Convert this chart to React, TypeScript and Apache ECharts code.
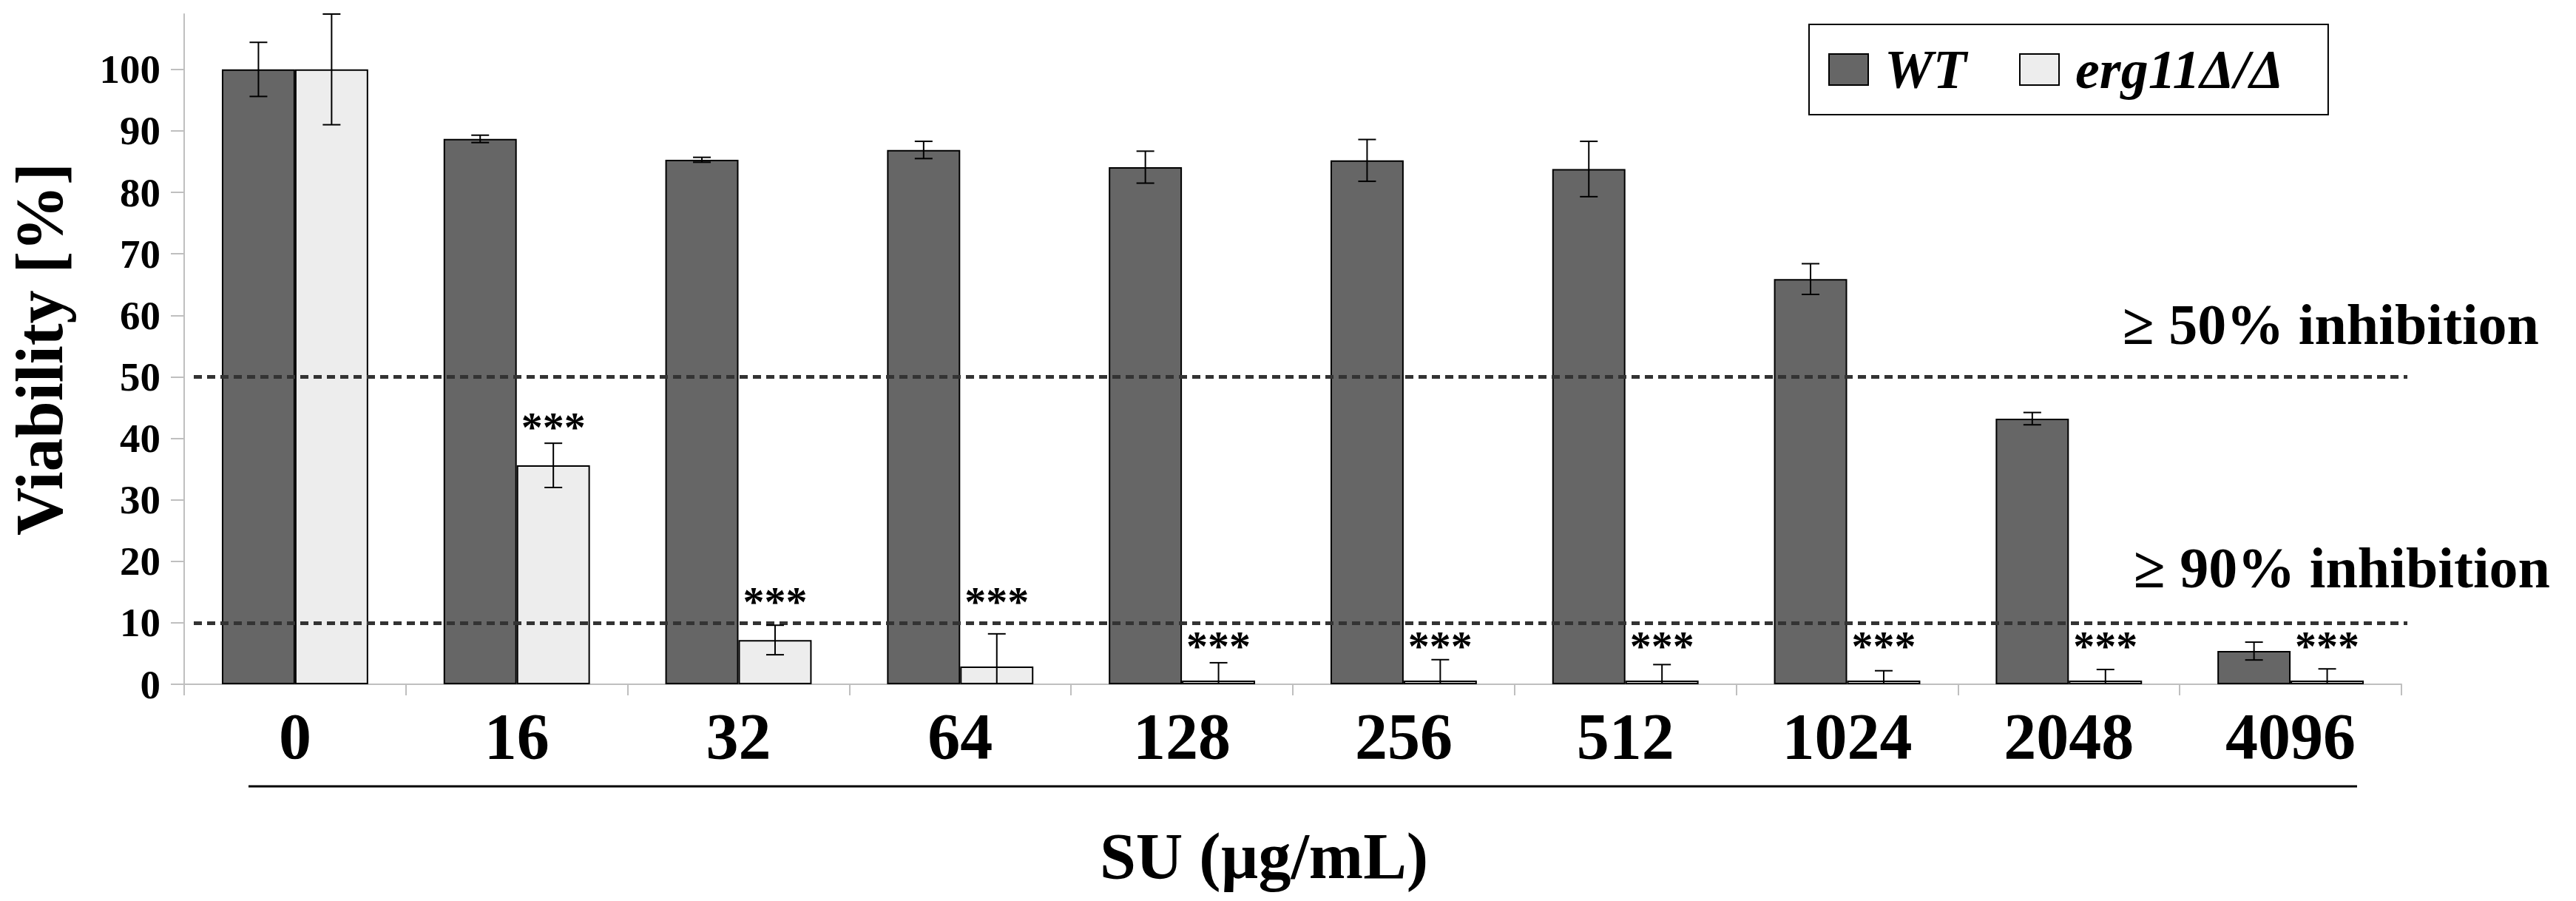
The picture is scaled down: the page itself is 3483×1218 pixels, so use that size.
import React, { useEffect, useRef } from "react";
import * as echarts from "echarts";

const categories = ["0", "16", "32", "64", "128", "256", "512", "1024", "2048", "4096"];
const wtMean = [100, 88.7, 85.3, 86.9, 84.1, 85.2, 83.8, 65.9, 43.2, 5.4];
const wtErr = [4.4, 0.6, 0.4, 1.4, 2.6, 3.4, 4.5, 2.5, 1.0, 1.45];
const ergMean = [100, 35.6, 7.2, 2.9, 0.6, 0.6, 0.6, 0.6, 0.6, 0.6];
const ergErr = [9.0, 3.6, 2.4, 5.3, 2.9, 3.4, 2.6, 1.6, 1.8, 1.9];
const sigLabel = ["", "***", "***", "***", "***", "***", "***", "***", "***", "***"];
const sigY = [0, 41.8, 13.4, 13.4, 6.2, 6.2, 6.2, 6.2, 6.2, 6.2];
const yTicks = [0, 10, 20, 30, 40, 50, 60, 70, 80, 90, 100];
const thresholds = [50, 10];
const thresholdLabels = ["\u2265 50% inhibition", "\u2265 90% inhibition"];
const seriesNames = ["WT", "erg11\u0394/\u0394"];

const FONT = "'Liberation Serif', 'Times New Roman', serif";

export default function App() {
  const ref = useRef<HTMLDivElement>(null);
  useEffect(() => {
    document.body.style.margin = "0";
    const chart = echarts.init(ref.current!, null, { renderer: "svg" });
    const band = 0.66; // fraction of category occupied by the two bars
    const errData = categories.map((_, i) => [i, wtMean[i], wtErr[i], ergMean[i], ergErr[i], sigY[i]]);
    const option: any = {
      animation: false,
      backgroundColor: "#fff",
      grid: { left: 245, right: 236, top: 19, bottom: 293, containLabel: false },
      legend: {
        data: seriesNames,
        left: 2446,
        top: 33,
        orient: "horizontal",
        icon: "rect",
        itemWidth: 53,
        itemHeight: 42,
        itemGap: 71,
        padding: [24, 60, 24, 26],
        borderColor: "#000",
        borderWidth: 2,
        backgroundColor: "#fff",
        selectedMode: false,
        textStyle: {
          fontFamily: FONT,
          fontSize: 74,
          fontWeight: "bold",
          fontStyle: "italic",
          color: "#000",
          lineHeight: 70,
          padding: [0, 0, 0, 17],
        },
      },
      xAxis: {
        type: "category",
        data: categories,
        name: "SU (\u00b5g/mL)",
        nameLocation: "middle",
        nameGap: 188,
        nameTextStyle: {
          fontFamily: FONT,
          fontSize: 88,
          fontWeight: "bold",
          color: "#000",
          lineHeight: 88,
          padding: [0, 78, 0, 0],
        },
        axisLine: { lineStyle: { color: "#bfbfbf", width: 2 } },
        axisTick: { show: true, length: 15, lineStyle: { color: "#bfbfbf", width: 2 } },
        axisLabel: {
          fontFamily: FONT,
          fontSize: 88,
          fontWeight: "bold",
          color: "#000",
          margin: 26,
          lineHeight: 88,
          interval: 0,
        },
      },
      yAxis: {
        type: "value",
        min: 0,
        max: 109,
        interval: 10,
        name: "Viability [%]",
        nameLocation: "middle",
        nameGap: 151,
        nameTextStyle: {
          fontFamily: FONT,
          fontSize: 90,
          fontWeight: "bold",
          color: "#000",
          lineHeight: 90,
        },
        splitLine: { show: false },
        axisLine: { show: true, lineStyle: { color: "#bfbfbf", width: 2 } },
        axisTick: { show: true, length: 18, customValues: yTicks, lineStyle: { color: "#bfbfbf", width: 2 } },
        axisLabel: {
          customValues: yTicks,
          fontFamily: FONT,
          fontSize: 55,
          fontWeight: "bold",
          color: "#000",
          margin: 32,
        },
      },
      series: [
        {
          name: seriesNames[0],
          type: "bar",
          data: wtMean,
          barGap: "0%",
          barCategoryGap: "34%",
          itemStyle: { color: "#666666", borderColor: "#000", borderWidth: 2 },
        },
        {
          name: seriesNames[1],
          type: "bar",
          data: ergMean,
          barGap: "0%",
          barCategoryGap: "34%",
          itemStyle: { color: "#ededed", borderColor: "#000", borderWidth: 2 },
          markLine: {
            silent: true,
            symbol: ["none", "none"],
            label: { show: false },
            lineStyle: { type: [11, 7], width: 5, color: "#333333" },
            data: thresholds.map((v) => [
              { x: 262, yAxis: v },
              { x: 3255, yAxis: v },
            ]),
          },
        },
        {
          name: "errors",
          type: "custom",
          data: errData,
          encode: { x: 0, y: 1 },
          z: 5,
          renderItem: (params: any, api: any) => {
            const i = api.value(0);
            const c = api.coord([i, 0]);
            const bw = api.size([1, 0])[0];
            const off = (bw * band) / 4;
            const children: any[] = [];
            const ls = { stroke: "#000", lineWidth: 2 };
            const cap = 12;
            const addErr = (x: number, m: number, e: number) => {
              const top = api.coord([i, m + e])[1];
              const lowV = m - e;
              const low = api.coord([i, Math.max(0, lowV)])[1];
              children.push({ type: "line", shape: { x1: x, y1: top, x2: x, y2: low }, style: ls });
              children.push({ type: "line", shape: { x1: x - cap, y1: top, x2: x + cap, y2: top }, style: ls });
              if (lowV >= 0) {
                children.push({ type: "line", shape: { x1: x - cap, y1: low, x2: x + cap, y2: low }, style: ls });
              }
            };
            addErr(c[0] - off, api.value(1), api.value(2));
            addErr(c[0] + off, api.value(3), api.value(4));
            const lbl = sigLabel[i];
            if (lbl) {
              const sy = api.coord([i, api.value(5)])[1];
              children.push({
                type: "text",
                x: c[0] + off,
                y: sy,
                style: {
                  text: lbl,
                  fill: "#000",
                  fontFamily: FONT,
                  fontSize: 58,
                  fontWeight: "bold",
                  align: "center",
                  verticalAlign: "middle",
                },
              });
            }
            return { type: "group", children };
          },
        },
      ],
      graphic: [
        {
          type: "text",
          x: 2870,
          y: 438,
          style: {
            text: thresholdLabels[0],
            fill: "#000",
            fontFamily: FONT,
            fontSize: 78,
            fontWeight: "bold",
            align: "left",
            verticalAlign: "middle",
          },
        },
        {
          type: "text",
          x: 2885,
          y: 767,
          style: {
            text: thresholdLabels[1],
            fill: "#000",
            fontFamily: FONT,
            fontSize: 78,
            fontWeight: "bold",
            align: "left",
            verticalAlign: "middle",
          },
        },
        {
          type: "line",
          shape: { x1: 336, y1: 1063, x2: 3187, y2: 1063 },
          style: { stroke: "#000", lineWidth: 3 },
        },
      ],
    };
    chart.setOption(option);
    return () => chart.dispose();
  }, []);
  return <div ref={ref} style={{ width: 3483, height: 1218 }} />;
}
